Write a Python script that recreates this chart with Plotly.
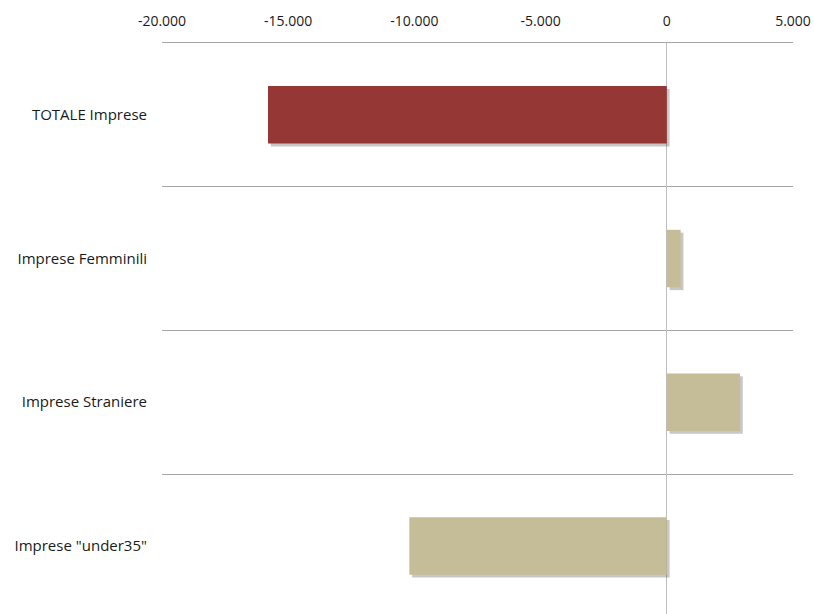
import plotly.graph_objects as go

categories = ["TOTALE Imprese", "Imprese Femminili", "Imprese Straniere", "Imprese \"under35\""]
values = [-15800, 550, 2900, -10200]
bar_colors = ["#953735", "#C4BD97", "#C4BD97", "#C4BD97"]
tick_vals = [-20000, -15000, -10000, -5000, 0, 5000]
tick_text = ["-20.000", "-15.000", "-10.000", "-5.000", "0", "5.000"]

x_range = [-20000, 5000]
shadow_shift = 110  # approx 3px in data units

fig = go.Figure()
# soft shadow on the hidden base axis, slightly shifted
fig.add_trace(go.Bar(
    y=categories, x=values, orientation="h",
    marker=dict(color="rgba(0,0,0,0.22)", line=dict(width=0)),
    width=0.4, offset=-0.18, xaxis="x", hoverinfo="skip", showlegend=False,
))
# actual bars on the visible overlay axis
fig.add_trace(go.Bar(
    y=categories, x=values, orientation="h",
    marker=dict(color=bar_colors, line=dict(width=0)),
    width=0.4, offset=-0.2, xaxis="x2", showlegend=False,
))

fig.update_layout(
    width=814, height=614,
    margin=dict(l=162, r=21, t=43, b=0),
    paper_bgcolor="white", plot_bgcolor="white",
    font=dict(family="Open Sans", size=14, color="#1a1a1a"),
    barmode="overlay",
    xaxis=dict(
        range=[x_range[0] - shadow_shift, x_range[1] - shadow_shift],
        visible=False, showgrid=False, zeroline=False,
    ),
    xaxis2=dict(
        overlaying="x", side="top", range=x_range, tickvals=tick_vals, ticktext=tick_text,
        showgrid=False, zeroline=True, zerolinecolor="#BEBEBE", zerolinewidth=1,
        showline=True, linecolor="#A6A6A6", linewidth=1, ticks="",
        tickfont=dict(size=14), ticklabelstandoff=10, ticklabeloverflow="allow",
    ),
    yaxis=dict(
        type="category", categoryorder="array", categoryarray=categories,
        range=[3.474, -0.5], tickson="boundaries", showgrid=True,
        gridcolor="#A6A6A6", gridwidth=1, ticks="", zeroline=False,
        ticklabelstandoff=14, tickfont=dict(size=15),
    ),
)

fig.write_html(
    "out.html",
    config={"displayModeBar": False},
    post_script="document.body.style.margin='0px';document.body.style.overflow='hidden';",
)
